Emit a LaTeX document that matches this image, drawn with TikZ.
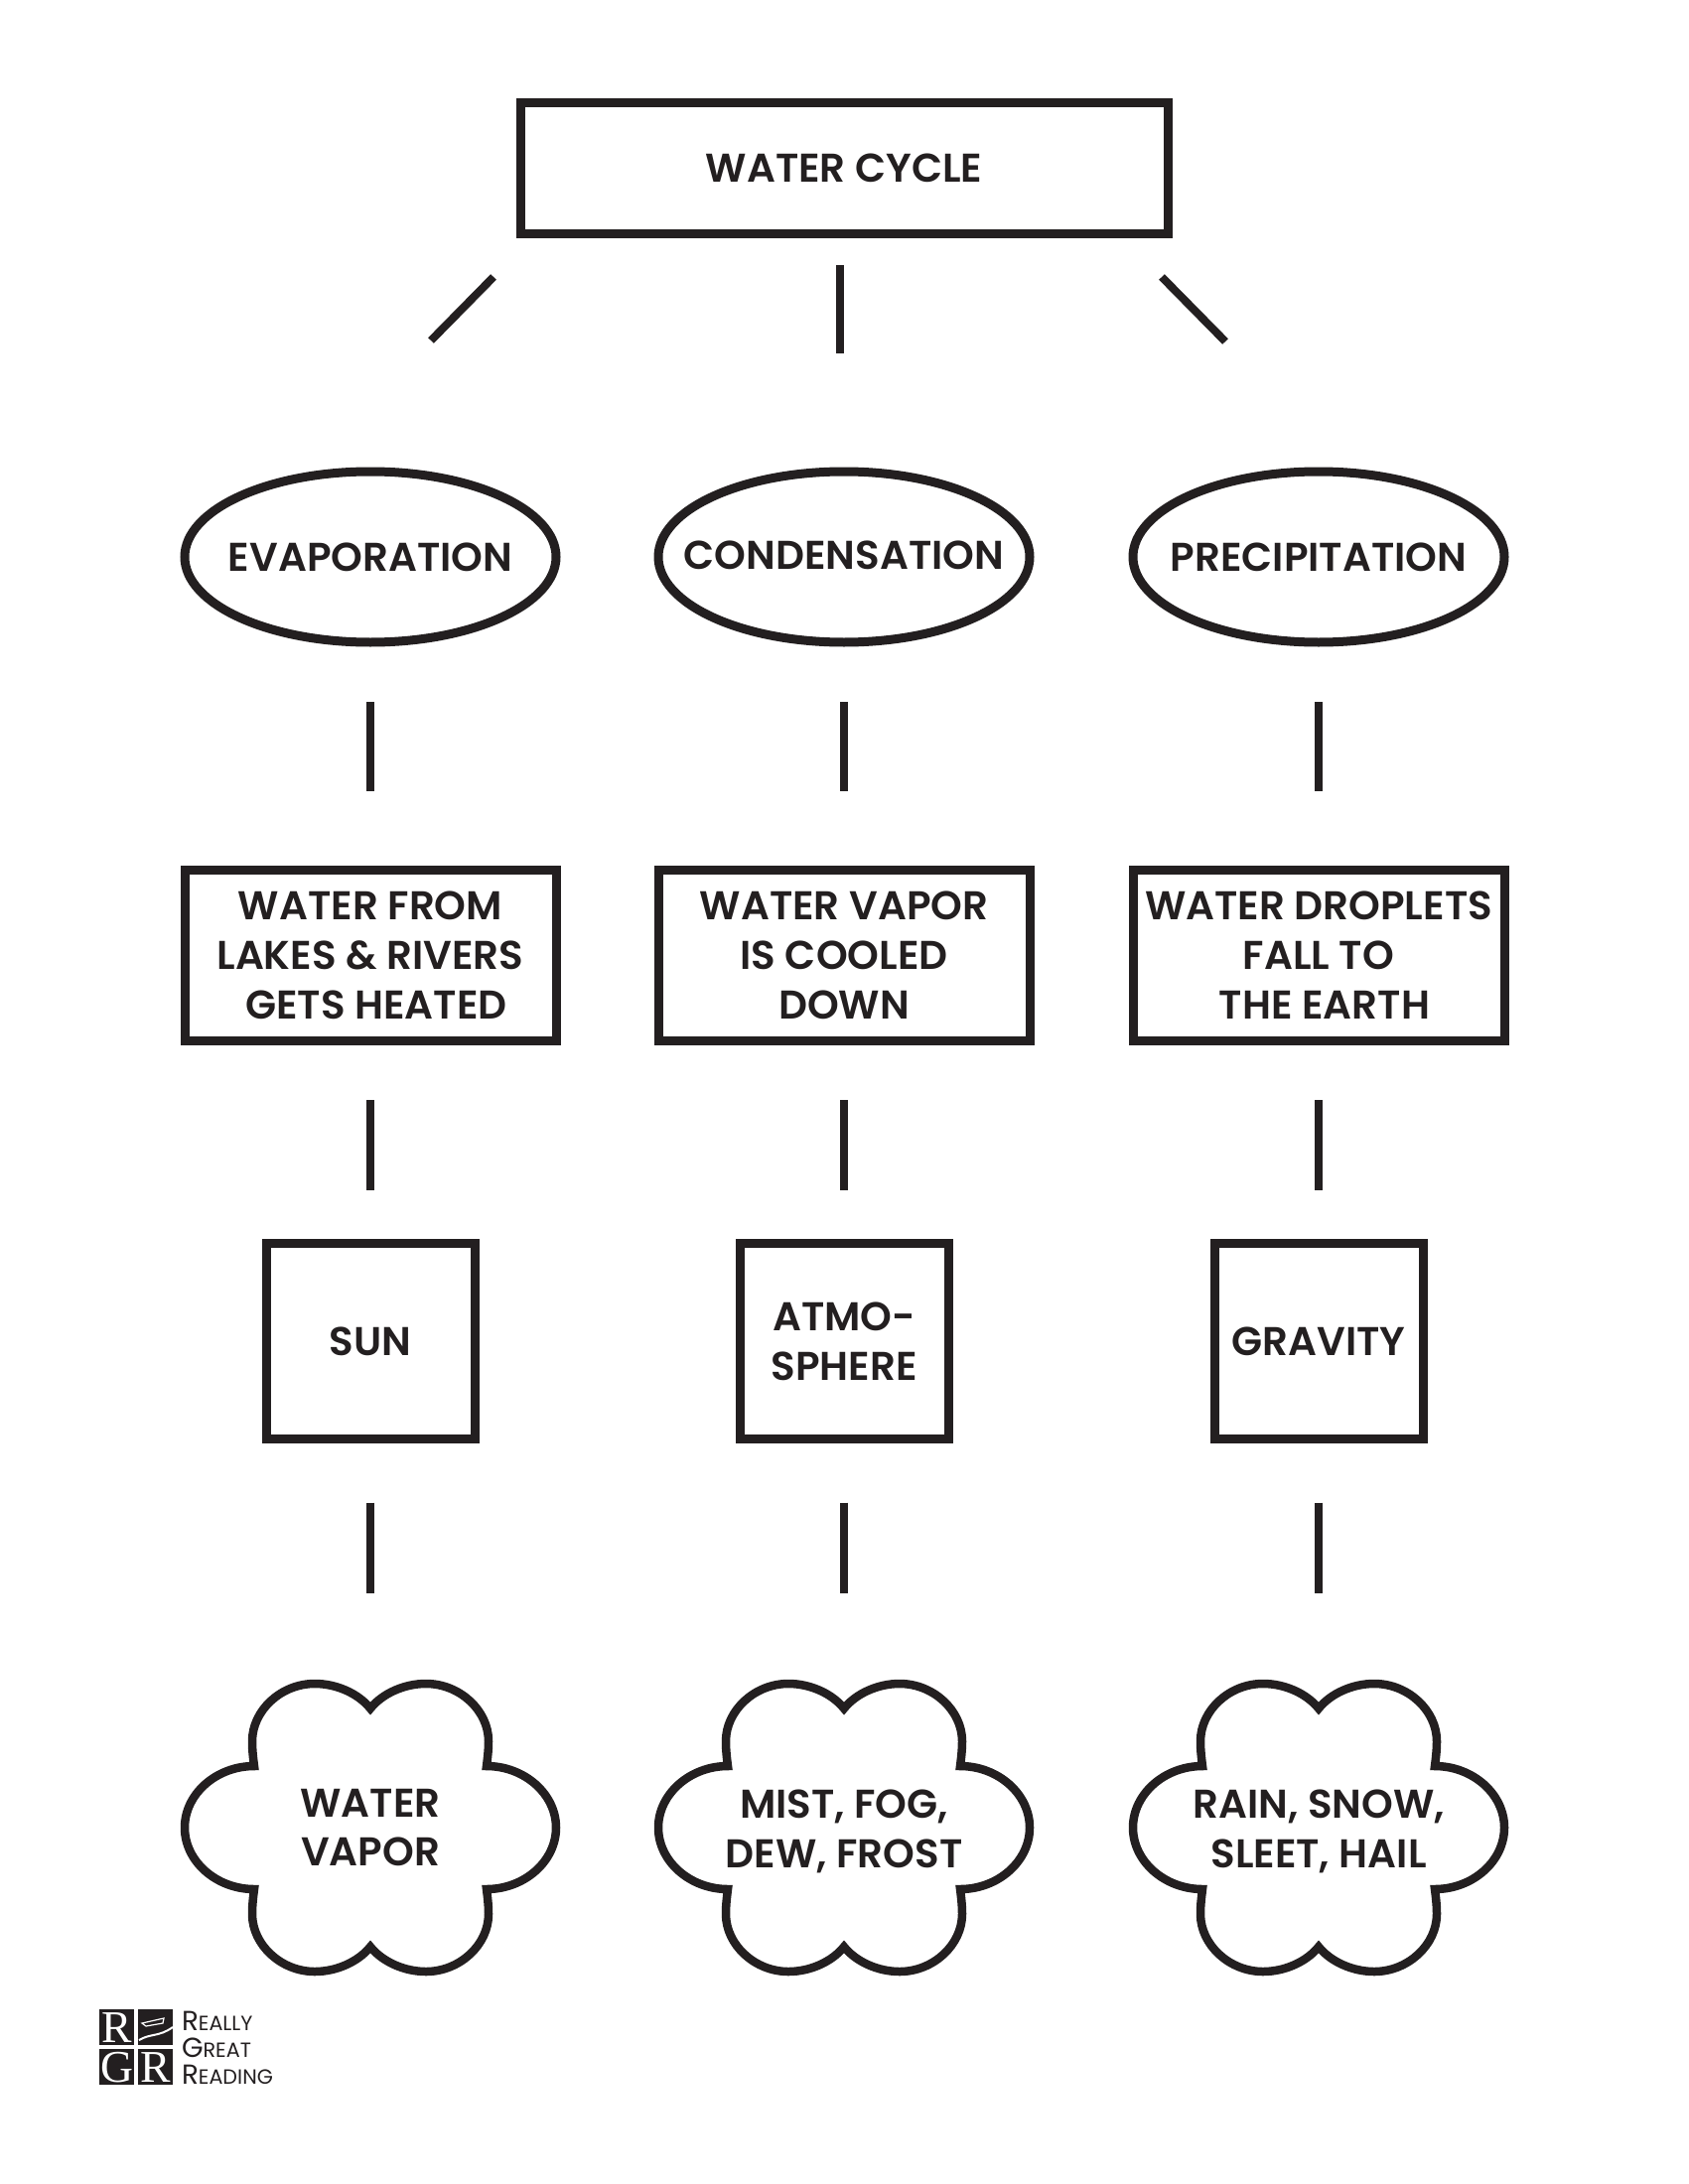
\documentclass[tikz,border=0pt]{standalone}
\usepackage{fontspec}
\setmainfont{Poppins}[BoldFont={Poppins SemiBold}]
\usetikzlibrary{shapes.geometric}
\definecolor{inkblack}{HTML}{231F20}
\newcommand{\ovaltext}[1]{\makebox[0pt]{#1}}
\newcommand{\tiletext}[1]{\makebox[0pt]{#1}}
\tikzset{
  label font/.style={font=\bfseries\fontsize{11.5}{14.2}\selectfont, text=inkblack, align=center},
  topbox/.style={draw=inkblack, line width=.09cm, label font, inner sep=0, outer sep=0, minimum width=6.52cm, minimum height=1.32cm},
  termoval/.style={draw=inkblack, line width=.09cm, label font, ellipse, inner sep=0, outer sep=0, minimum width=3.74cm, minimum height=1.72cm},
  factbox/.style={draw=inkblack, line width=.09cm, label font, inner sep=0, outer sep=0, minimum width=3.74cm, minimum height=1.72cm},
  causebox/.style={draw=inkblack, line width=.09cm, label font, inner sep=0, outer sep=0, minimum width=2.10cm, minimum height=1.97cm},
  cloudtext/.style={label font, inner sep=0, outer sep=0, minimum width=3.74cm, minimum height=2.96cm},
  stub/.style={draw=inkblack, line width=.08cm},
  logotile/.style={fill=inkblack, text=white, inner sep=0, outer sep=0, minimum width=.35cm, minimum height=.36cm, text height=.31cm, text depth=0cm, font=\fontspec{Liberation Serif}\fontsize{13}{13}\selectfont},
  logoword/.style={text=inkblack, inner sep=0, outer sep=0, anchor=base west},
  cloudshape/.pic={
    \draw [draw=inkblack, line width=.085cm, miter limit=4]
      (0, -1.20) .. controls (-.12, -1.35) and (-.34, -1.45) .. (-.56, -1.45)
      .. controls (-.90, -1.45) and (-1.19, -1.18) .. (-1.19, -.87)
      .. controls (-1.19, -.78) and (-1.18, -.70) .. (-1.17, -.62)
      .. controls (-1.55, -.62) and (-1.87, -.34) .. (-1.87, 0)
      .. controls (-1.87, .34) and (-1.55, .62) .. (-1.17, .62)
      .. controls (-1.18, .70) and (-1.19, .78) .. (-1.19, .87)
      .. controls (-1.19, 1.18) and (-.90, 1.45) .. (-.56, 1.45)
      .. controls (-.34, 1.45) and (-.12, 1.35) .. (0, 1.20)
      .. controls (.12, 1.35) and (.34, 1.45) .. (.56, 1.45)
      .. controls (.90, 1.45) and (1.19, 1.18) .. (1.19, .87)
      .. controls (1.19, .78) and (1.18, .70) .. (1.17, .62)
      .. controls (1.55, .62) and (1.87, .34) .. (1.87, 0)
      .. controls (1.87, -.34) and (1.55, -.62) .. (1.17, -.62)
      .. controls (1.18, -.70) and (1.19, -.78) .. (1.19, -.87)
      .. controls (1.19, -1.18) and (.90, -1.45) .. (.56, -1.45)
      .. controls (.34, -1.45) and (.12, -1.35) .. (0, -1.20) -- cycle;
  }
}
\begin{document}
\begin{tikzpicture}[x=1cm, y=-1cm]
  \useasboundingbox (0, 0) rectangle (17, 22);
  \node [topbox] (cycle) at (8.50, 1.695) {WATER CYCLE};

  \coordinate (leftup) at (4.97, 2.79);
  \coordinate (leftdown) at (4.34, 3.43);
  \coordinate (midup) at (8.46, 2.67);
  \coordinate (middown) at (8.46, 3.56);
  \coordinate (rightup) at (11.70, 2.79);
  \coordinate (rightdown) at (12.34, 3.44);
  \draw [stub] (leftup) -- (leftdown);
  \draw [stub] (midup) -- (middown);
  \draw [stub] (rightup) -- (rightdown);

  \node [termoval] (evap) at (3.73, 5.61) {\ovaltext{EVAPORATION}};
  \node [termoval] (cond) at (8.50, 5.61) {\ovaltext{\raisebox{.03cm}{CONDENSATION}}};
  \node [termoval] (prec) at (13.28, 5.61) {\ovaltext{PRECIPITATION}};

  \node [factbox] (evapfact) at (3.73, 9.62) {WATER FROM\\LAKES \& RIVERS\\\hspace*{.12cm}GETS HEATED};
  \node [factbox] (condfact) at (8.50, 9.62) {WATER VAPOR\\IS COOLED\\DOWN};
  \node [factbox] (precfact) at (13.28, 9.62) {WATER DROPLETS\\FALL TO\\\hspace*{.12cm}THE EARTH};

  \node [causebox] (evapcause) at (3.73, 13.51) {SUN};
  \node [causebox] (condcause) at (8.50, 13.51) {ATMO-\\SPHERE};
  \node [causebox] (preccause) at (13.28, 13.51) {GRAVITY};

  \foreach \cx in {3.73, 8.50, 13.28}
    \pic at (\cx, 18.41) {cloudshape};
  \node [cloudtext] (evapcloud) at (3.73, 18.41) {WATER\\VAPOR};
  \node [cloudtext] (condcloud) at (8.50, 18.45) {MIST, FOG,\\DEW, FROST};
  \node [cloudtext] (preccloud) at (13.28, 18.45) {RAIN, SNOW,\\SLEET, HAIL};

  \foreach \col/\cut in {evap/.88, cond/.92, prec/.92} {
    \draw [stub, shorten <=.60cm, shorten >=.79cm] (\col.south) -- (\col fact.north);
    \draw [stub, shorten <=.60cm, shorten >=.54cm] (\col fact.south) -- (\col cause.north);
    \draw [stub, shorten <=.64cm, shorten >=\cut cm] (\col cause.south) -- (\col cloud.north);
  }

  % logo
  \node [logotile] (tileone) at (1.175, 20.42) {\tiletext{R}};
  \node [logotile] (tiletwo) at (1.565, 20.42) {};
  \node [logotile] (tilethree) at (1.175, 20.82) {\tiletext{G}};
  \node [logotile] (tilefour) at (1.565, 20.82) {\tiletext{R}};
  \draw [white, line width=.012cm] (1.43, 20.38) -- (1.65, 20.33) -- (1.64, 20.38) -- (1.47, 20.41) -- cycle;
  \draw [white, line width=.02cm] (1.40, 20.55) .. controls (1.52, 20.48) and (1.60, 20.52) .. (1.74, 20.42);
  \node [logoword] (really) at (1.83, 20.45) {\fontsize{7.9}{8}\selectfont R\fontsize{5.9}{8}\selectfont EALLY};
  \node [logoword] (great) at (1.83, 20.72) {\fontsize{7.9}{8}\selectfont G\fontsize{5.9}{8}\selectfont REAT};
  \node [logoword] (reading) at (1.83, 20.99) {\fontsize{7.9}{8}\selectfont R\fontsize{5.9}{8}\selectfont EADING};
\end{tikzpicture}
\end{document}
